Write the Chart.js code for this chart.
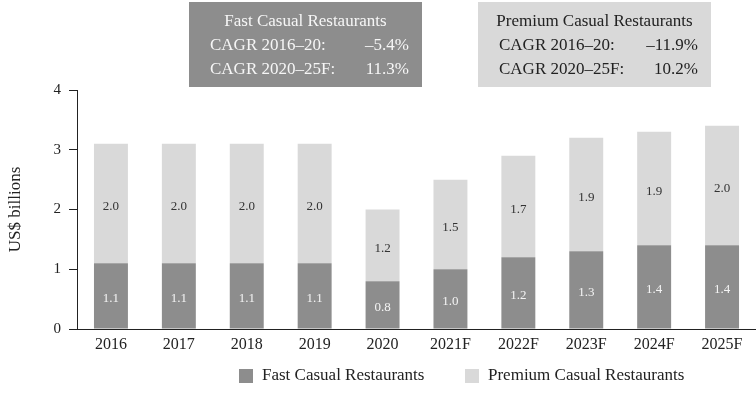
<!DOCTYPE html>
<html>
<head>
<meta charset="utf-8">
<script src="https://cdn.jsdelivr.net/npm/chart.js@4"></script>
<style>
  html, body { margin: 0; padding: 0; background: #fff; }
  #wrap { width: 756px; height: 405px; }
</style>
</head>
<body>
<div id="wrap"><canvas id="chart" width="756" height="405"></canvas></div>
<script>
const years = ['2016', '2017', '2018', '2019', '2020', '2021F', '2022F', '2023F', '2024F', '2025F'];
const fastCasual = [1.1, 1.1, 1.1, 1.1, 0.8, 1.0, 1.2, 1.3, 1.4, 1.4];
const premiumCasual = [2.0, 2.0, 2.0, 2.0, 1.2, 1.5, 1.7, 1.9, 1.9, 2.0];
const seriesNames = ['Fast Casual Restaurants', 'Premium Casual Restaurants'];
const cagrLabels = ['CAGR 2016–20:', 'CAGR 2020–25F:'];
const fastCagr = ['–5.4%', '11.3%'];
const premiumCagr = ['–11.9%', '10.2%'];

const FONT = '"Liberation Serif", "Times New Roman", serif';
const DARK = '#8d8d8d';
const LIGHT = '#d9d9d9';
const INK = '#222';

// value labels inside each bar segment
const segmentLabels = {
    id: 'segmentLabels',
    afterDatasetsDraw(chart) {
        const ctx = chart.ctx;
        ctx.save();
        ctx.font = '13px ' + FONT;
        ctx.textAlign = 'center';
        ctx.textBaseline = 'middle';
        chart.data.datasets.forEach((ds, i) => {
            const meta = chart.getDatasetMeta(i);
            meta.data.forEach((bar, j) => {
                ctx.fillStyle = i === 0 ? '#f4f4f4' : '#333';
                const y = (bar.y + bar.base) / 2 + 3;
                ctx.fillText(ds.data[j].toFixed(1), bar.x, y);
            });
        });
        ctx.restore();
    }
};

// CAGR boxes at the top and the legend at the bottom
const extras = {
    id: 'extras',
    afterDraw(chart) {
        const ctx = chart.ctx;
        ctx.save();
        const boxes = [
            { x: 189, fill: DARK, text: '#f6f6f6', title: seriesNames[0], vals: fastCagr },
            { x: 478, fill: LIGHT, text: '#222', title: seriesNames[1], vals: premiumCagr }
        ];
        boxes.forEach(b => {
            const w = 233;
            ctx.fillStyle = b.fill;
            ctx.fillRect(b.x, 2, w, 85);
            ctx.fillStyle = b.text;
            ctx.font = '17px ' + FONT;
            ctx.textBaseline = 'middle';
            ctx.textAlign = 'center';
            ctx.fillText(b.title, b.x + w / 2, 22);
            cagrLabels.forEach((lab, k) => {
                const y = 46 + k * 24;
                ctx.textAlign = 'left';
                ctx.fillText(lab, b.x + 21, y);
                ctx.textAlign = 'right';
                ctx.fillText(b.vals[k], b.x + 220, y);
            });
        });

        // legend
        ctx.font = '17px ' + FONT;
        ctx.textBaseline = 'middle';
        ctx.textAlign = 'left';
        const ly = 376;
        const items = [{ x: 239, c: DARK }, { x: 465, c: LIGHT }];
        items.forEach((it, k) => {
            ctx.fillStyle = it.c;
            ctx.fillRect(it.x, ly - 7, 14, 14);
            ctx.fillStyle = '#222';
            ctx.fillText(seriesNames[k], it.x + 23, ly);
        });
        ctx.restore();
    }
};

new Chart(document.getElementById('chart'), {
    type: 'bar',
    data: {
        labels: years,
        datasets: [
            { label: seriesNames[0], data: fastCasual, backgroundColor: DARK, barPercentage: 0.5, categoryPercentage: 1 },
            { label: seriesNames[1], data: premiumCasual, backgroundColor: LIGHT, barPercentage: 0.5, categoryPercentage: 1 }
        ]
    },
    options: {
        responsive: false,
        animation: false,
        layout: { padding: { top: 90, right: 0, bottom: 0, left: 0 } },
        plugins: {
            legend: { display: false },
            tooltip: { enabled: false }
        },
        scales: {
            x: {
                stacked: true,
                grid: { display: false, drawTicks: false },
                border: { display: true, color: INK, width: 1 },
                ticks: { color: INK, font: { family: FONT, size: 16 }, padding: 6, maxRotation: 0 },
                afterFit(scale) { scale.height = 76; }
            },
            y: {
                stacked: true,
                min: 0,
                max: 4,
                grid: { display: true, drawOnChartArea: false, drawTicks: true, tickLength: 8, color: INK },
                border: { display: true, color: INK, width: 1 },
                ticks: { stepSize: 1, color: INK, font: { family: FONT, size: 15 }, padding: 8 },
                title: { display: true, text: 'US$ billions', color: INK, font: { family: FONT, size: 17 }, padding: { top: 5, bottom: 0 } },
                afterFit(scale) { scale.width = 77; }
            }
        }
    },
    plugins: [segmentLabels, extras]
});
</script>
</body>
</html>
